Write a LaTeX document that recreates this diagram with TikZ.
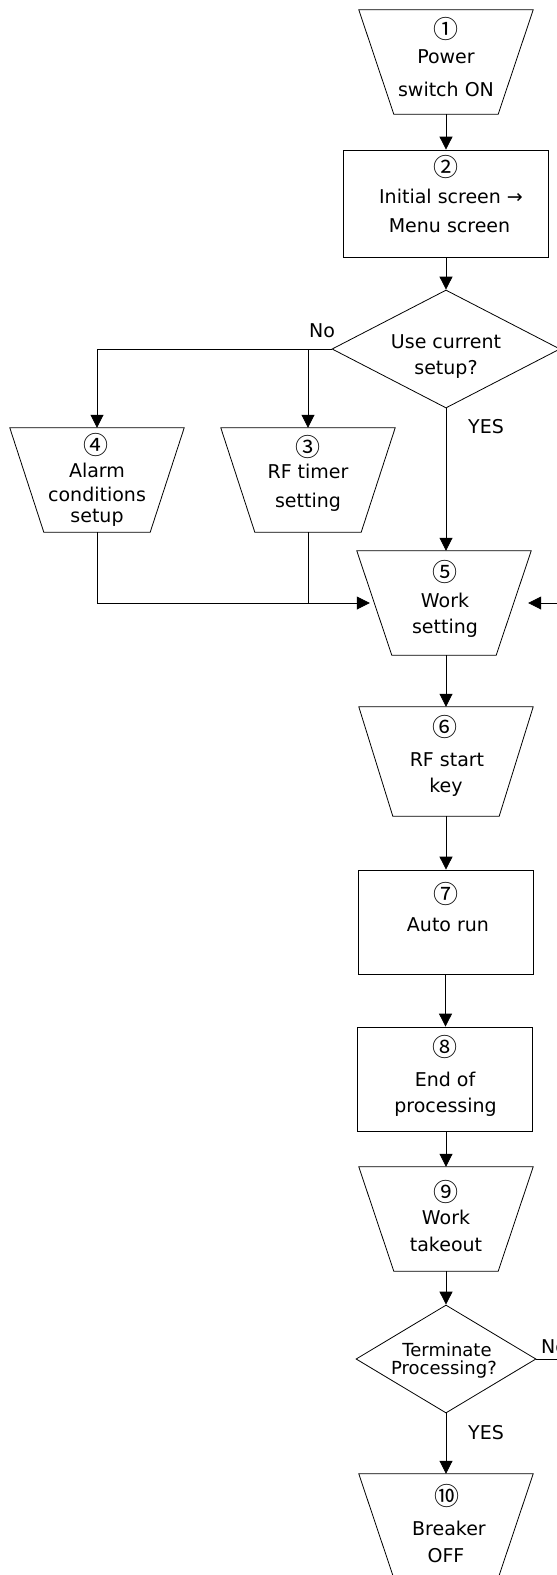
\documentclass[tikz,border=0pt]{standalone}
\usepackage{fontspec}
\setmainfont{DejaVu Sans}
\newfontfamily\cjk{Noto Sans CJK JP}
\usetikzlibrary{arrows.meta,shapes.geometric,calc}

% outline of an inverted trapezoid drawn on a named bounding node
\newcommand\trapout[2]{%
  \draw[line] (#1.north west) -- (#1.north east) -- ([xshift=-#2]#1.south east)
    -- ([xshift=#2]#1.south west) -- cycle;}
% one line of text, placed by its baseline
\newcommand\tline[4]{\node[txt] (#1) at (#2,#3) {#4};}
% step number in a circle
\newcommand\stepno[4]{\node[numtxt] (#1) at (#2,#3) {#4};}

\begin{document}
\begin{tikzpicture}[x=1pt,y=-1pt,
  line/.style={line width=0.8pt},
  arr/.style={line, -{Triangle[length=13pt,width=13pt]}},
  box/.style={draw, line, rectangle, inner sep=0pt},
  trapbox/.style={rectangle, inner sep=0pt, minimum width=174pt},
  dec/.style={draw, line, diamond, inner sep=0pt},
  txt/.style={anchor=base, inner sep=0pt, font=\fontsize{19pt}{23pt}\selectfont},
  numtxt/.style={anchor=center, inner sep=0pt, font=\cjk\fontsize{25pt}{29pt}\selectfont},
  smalltxt/.style={txt, font=\fontsize{18pt}{22pt}\selectfont},
]
\useasboundingbox (0,0) rectangle (557,1575);
\clip (0,0) rectangle (557,1575);

% ---- shapes ----
\node[trapbox, minimum height=104pt] (t1) at (446,62) {};
\trapout{t1}{35pt}
\node[box, minimum width=205pt, minimum height=107pt] (b2) at (445.5,203.5) {};
\node[dec, minimum width=228pt, minimum height=118pt] (d1) at (446,349) {};
\node[trapbox, minimum height=104pt] (t4) at (97,480) {};
\trapout{t4}{34pt}
\node[trapbox, minimum height=104pt] (t3) at (308,480) {};
\trapout{t3}{34pt}
\node[trapbox, minimum height=104pt] (t5) at (444,603) {};
\trapout{t5}{35pt}
\node[trapbox, minimum height=109pt] (t6) at (446,761.5) {};
\trapout{t6}{34pt}
\node[box, minimum width=175pt, minimum height=104pt] (b7) at (445.5,922) {};
\node[box, minimum width=175pt, minimum height=104pt] (b8) at (444.5,1079) {};
\node[trapbox, minimum height=104pt] (t9) at (446,1219) {};
\trapout{t9}{35pt}
\node[dec, minimum width=180pt, minimum height=108pt] (d2) at (446,1359) {};
\node[trapbox, minimum height=104pt] (t10) at (446,1526) {};
\trapout{t10}{35pt}

% ---- texts ----
\stepno{t1a}{446}{29}{①}
\tline{t1b}{446}{63}{Power}
\tline{t1c}{446}{96.5}{switch ON}
\stepno{b2a}{446}{167}{②}
\tline{b2b}{451}{203}{Initial screen →}
\tline{b2c}{449.5}{232}{Menu screen}
\tline{d1a}{446}{348}{Use current}
\tline{d1b}{446}{374}{setup?}
\stepno{t4a}{96}{445}{④}
\tline{t4b}{97}{477}{Alarm}
\tline{t4c}{97}{501}{conditions}
\tline{t4d}{97}{522}{setup}
\stepno{t3a}{308}{447}{③}
\tline{t3b}{308}{478}{RF timer}
\tline{t3c}{308}{507}{setting}
\stepno{t5a}{445}{572}{⑤}
\tline{t5b}{445}{607}{Work}
\tline{t5c}{445}{633}{setting}
\stepno{t6a}{445}{727}{⑥}
\tline{t6b}{447}{766}{RF start}
\tline{t6c}{446}{792}{key}
\stepno{b7a}{446}{894}{⑦}
\tline{b7b}{448}{931}{Auto run}
\stepno{b8a}{445}{1047}{⑧}
\tline{b8b}{445}{1086}{End of}
\tline{b8c}{445.5}{1112}{processing}
\stepno{t9a}{446}{1192}{⑨}
\tline{t9b}{446}{1224}{Work}
\tline{t9c}{446}{1251}{takeout}
\node[smalltxt] (d2a) at (447,1356) {Terminate};
\node[smalltxt] (d2b) at (444,1374) {Processing?};
\stepno{t10a}{447}{1496}{⑩}
\tline{t10b}{449}{1535}{Breaker}
\tline{t10c}{446}{1562}{OFF}

% ---- branch labels ----
\tline{no1}{322}{337}{No}
\tline{yes1}{486}{433}{YES}
\node[txt, anchor=base west] (no2) at (541,1353) {No};
\tline{yes2}{486}{1439}{YES}

% ---- connectors ----
\draw[arr] (t1.south) -- (b2.north -| t1.south);
\draw[arr] (b2.south -| d1.north) -- (d1.north);
\draw[arr] (d1.west) -| (t4.north);
\draw[arr] (t3.north |- d1.west) -- (t3.north);
\draw[arr] (d1.south) -- (d1.south |- t5.north);
\draw[arr, shorten >=-13pt] (t4.south) |- (t5.west);
\draw[line] (t3.south) -- (t3.south |- t5.west);
\draw[arr] (t5.south -| t6.north) -- (t6.north);
\draw[arr] (t6.south) -- (t6.south |- b7.north);
\draw[arr] (b7.south) -- (b7.south |- b8.north);
\draw[arr] (b8.south -| t9.north) -- (t9.north);
\draw[arr] (t9.south) -- (d2.north);
\draw[arr] (d2.south) -- (d2.south |- t10.north);
\draw[arr, shorten >=-3pt] (d2.east) -- ++(40,0) |- (t5.east);
\end{tikzpicture}
\end{document}
